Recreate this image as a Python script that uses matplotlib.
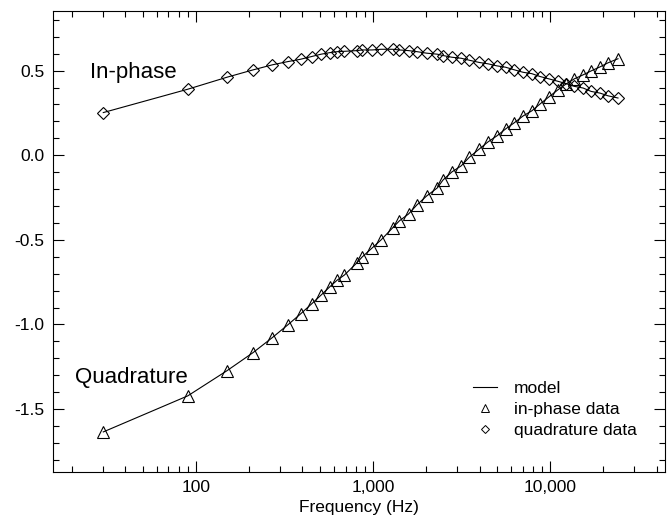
import numpy as np
import matplotlib
matplotlib.use("Agg")
import matplotlib.pyplot as plt
from matplotlib.lines import Line2D
from matplotlib.ticker import FixedLocator, LogLocator, NullFormatter, MultipleLocator

plt.rcParams['font.family'] = ['Liberation Sans', 'DejaVu Sans']

# frequencies (Hz) of the measured points
freq = [30, 90, 150, 210, 270, 330, 390, 450, 510, 570, 630, 690, 810, 870,
        990, 1110, 1290, 1410, 1590, 1770, 2010, 2310, 2490, 2790, 3150, 3510,
        3990, 4470, 5010, 5610, 6270, 7050, 7890, 8790, 9870, 11070, 12330,
        13710, 15390, 17070, 19170, 21270, 24210]

# lower curve (triangles)
tri_vals = [-1.635, -1.422, -1.273, -1.167, -1.078, -1.003, -0.938, -0.879,
            -0.826, -0.778, -0.737, -0.708, -0.637, -0.601, -0.548, -0.501,
            -0.430, -0.388, -0.347, -0.294, -0.241, -0.193, -0.146, -0.099,
            -0.063, -0.011, 0.037, 0.079, 0.114, 0.155, 0.191, 0.232, 0.262,
            0.303, 0.345, 0.386, 0.421, 0.451, 0.475, 0.498, 0.522, 0.546, 0.570]

# upper curve (diamonds)
dia_vals = [0.252, 0.390, 0.461, 0.504, 0.534, 0.553, 0.567, 0.583, 0.597,
            0.606, 0.612, 0.614, 0.618, 0.622, 0.622, 0.626, 0.626, 0.622,
            0.618, 0.612, 0.603, 0.597, 0.589, 0.579, 0.573, 0.561, 0.548,
            0.540, 0.528, 0.520, 0.505, 0.490, 0.482, 0.465, 0.451, 0.437,
            0.423, 0.407, 0.397, 0.377, 0.367, 0.351, 0.338]

xticks = [100, 1000, 10000]
xticklabels = ['100', '1,000', '10,000']
yticks = [-1.5, -1.0, -0.5, 0.0, 0.5]

fig = plt.figure(figsize=(6.71, 5.17), dpi=100)
ax = fig.add_axes([0.079, 0.087, 0.912, 0.892])

# model curves
ax.plot(freq, tri_vals, color='black', lw=0.8)
ax.plot(freq, dia_vals, color='black', lw=0.8)
# data markers
ax.plot(freq, tri_vals, ls='none', marker='^', ms=8.5, mfc='none', mec='black', mew=0.8)
ax.plot(freq, dia_vals, ls='none', marker='D', ms=6.5, mfc='none', mec='black', mew=0.8)

ax.set_xscale('log')
ax.set_xlim(15.6, 44600)
ax.set_ylim(-1.872, 0.853)

ax.xaxis.set_major_locator(FixedLocator(xticks))
ax.set_xticklabels(xticklabels)
ax.xaxis.set_minor_locator(LogLocator(base=10, subs=np.arange(2, 10)))
ax.xaxis.set_minor_formatter(NullFormatter())
ax.set_yticks(yticks)
ax.set_yticklabels(['%.1f' % v for v in yticks])
ax.yaxis.set_minor_locator(MultipleLocator(0.1))

ax.tick_params(which='both', direction='in', top=True, right=True, labelsize=12.5, width=0.8)
ax.tick_params(which='major', length=8, pad=6)
ax.tick_params(which='minor', length=4)
for s in ax.spines.values():
    s.set_linewidth(0.8)

ax.set_xlabel('Frequency (Hz)', fontsize=12.5, labelpad=3)

ax.text(25.2, 0.49, 'In-phase', fontsize=16, ha='left', va='center')
ax.text(20.7, -1.316, 'Quadrature', fontsize=16, ha='left', va='center')

handles = [Line2D([], [], color='black', lw=0.8),
           Line2D([], [], ls='none', marker='^', ms=6, mfc='none', mec='black', mew=0.7),
           Line2D([], [], ls='none', marker='D', ms=4.5, mfc='none', mec='black', mew=0.7)]
labels = ['model', 'in-phase data', 'quadrature data']
ax.legend(handles, labels, loc='upper left', bbox_to_anchor=(0.66, 0.232), frameon=False,
          fontsize=12.5, handlelength=1.4, handletextpad=1.0, labelspacing=0.35)

fig.savefig('out.png', dpi=100)
